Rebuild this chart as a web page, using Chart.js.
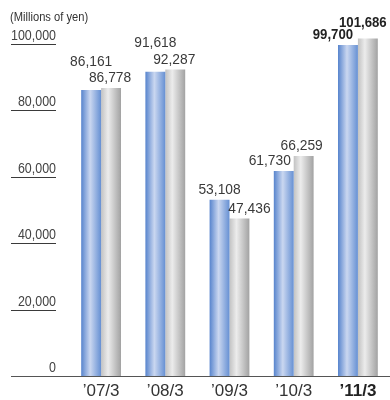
<!DOCTYPE html>
<html lang="en">
<head>
  <meta charset="UTF-8" />
  <meta name="viewport" content="width=device-width, initial-scale=1.0" />
  <title>Net sales</title>
  <script src="https://cdn.jsdelivr.net/npm/chart.js"></script>
  <style>
    html, body { margin: 0; padding: 0; background: #fff; }
    #wrap { width: 390px; height: 400px; position: relative; }
  </style>
</head>
<body>
  <div id="wrap"><canvas id="barChart"></canvas></div>

  <script>
    const periods = ['’07/3', '’08/3', '’09/3', '’10/3', '’11/3'];
    const seriesA = [86161, 91618, 53108, 61730, 99700];
    const seriesB = [86778, 92287, 47436, 66259, 101686];
    const yTicks = [0, 20000, 40000, 60000, 80000, 100000];
    const unitLabel = '(Millions of yen)';

    // value label nudges [dx, dy], from centred 10px above each bar
    const nudgeA = [[0, -18], [0, -19], [0, 0], [-14, 0], [-15, 0]];
    const nudgeB = [[-1, 0], [-1, 0], [10, 0], [-2, 0], [-5, -6]];

    const sans = '"Liberation Sans", Arial, Helvetica, sans-serif';
    const CAT_PCT = 0.62;
    const lastIdx = periods.length - 1;

    const blueStops = [[0, '#5784cd'], [0.45, '#cad7f0'], [1, '#6690d3']];
    const grayStops = [[0, '#c2c2c2'], [0.35, '#ececec'], [1, '#a2a2a2']];

    // horizontal sheen across each bar
    function shade(stops, side) {
      return (c) => {
        const xs = c.chart.scales.x;
        if (!xs || c.dataIndex === undefined) return stops[1][1];
        const bw = (xs.width / periods.length) * CAT_PCT / 2;
        const mid = xs.getPixelForValue(c.dataIndex);
        if (!Number.isFinite(bw) || !Number.isFinite(mid) || bw <= 0) return stops[1][1];
        const x0 = side < 0 ? mid - bw : mid;
        const g = c.chart.ctx.createLinearGradient(x0, 0, x0 + bw, 0);
        stops.forEach(([p, col]) => g.addColorStop(p, col));
        return g;
      };
    }

    const fmt = (v) => v.toLocaleString('en-US');

    // text squeezed horizontally, to get a condensed face out of Liberation Sans
    function squeezed(ctx, str, x, y, font, sx, align) {
      ctx.save();
      ctx.translate(x, y);
      ctx.scale(sx, 1);
      ctx.font = font;
      ctx.textAlign = align;
      ctx.textBaseline = 'middle';
      ctx.fillText(str, 0, 0);
      ctx.restore();
    }

    const decor = {
      id: 'decor',
      afterDraw(chart) {
        const { ctx } = chart;
        const y = chart.scales.y;
        const x = chart.scales.x;
        ctx.save();

        // y tick labels with a short rule under each
        ctx.strokeStyle = '#3a3a3a';
        ctx.lineWidth = 1.2;
        ctx.fillStyle = '#444';
        yTicks.forEach((v) => {
          const py = Math.round(y.getPixelForValue(v)) + 0.5;
          squeezed(ctx, fmt(v), 56, py - 8.5, `14px ${sans}`, 0.89, 'right');
          if (v === 0) return;
          ctx.beginPath();
          ctx.moveTo(11, py);
          ctx.lineTo(56, py);
          ctx.stroke();
        });

        // base line
        const by = Math.round(y.getPixelForValue(0)) + 0.5;
        ctx.strokeStyle = '#555';
        ctx.beginPath();
        ctx.moveTo(11, by);
        ctx.lineTo(chart.width, by);
        ctx.stroke();

        // period labels
        periods.forEach((p, i) => {
          const bold = i === lastIdx;
          ctx.fillStyle = bold ? '#222' : '#333';
          squeezed(ctx, p, x.getPixelForValue(i), 391, `${bold ? 'bold ' : ''}17px ${sans}`, 1, 'center');
        });

        // unit caption
        ctx.fillStyle = '#333';
        squeezed(ctx, unitLabel, 10, 18, `12px ${sans}`, 0.93, 'left');

        // value labels
        [[seriesA, nudgeA], [seriesB, nudgeB]].forEach(([vals, nudge], di) => {
          chart.getDatasetMeta(di).data.forEach((bar, i) => {
            const bold = i === lastIdx;
            ctx.fillStyle = bold ? '#222' : '#3a3a3a';
            squeezed(ctx, fmt(vals[i]), bar.x + nudge[i][0], bar.y - 10 + nudge[i][1],
              `${bold ? 'bold ' : ''}15px ${sans}`, bold ? 0.88 : 0.92, 'center');
          });
        });

        ctx.restore();
      }
    };

    const barCtx = document.getElementById('barChart').getContext('2d');
    const barChart = new Chart(barCtx, {
      type: 'bar',
      data: {
        labels: periods,
        datasets: [
          { data: seriesA, backgroundColor: shade(blueStops, -1) },
          { data: seriesB, backgroundColor: shade(grayStops, 1) }
        ]
      },
      options: {
        responsive: true,
        maintainAspectRatio: false,
        animation: false,
        layout: { padding: { top: 44, right: 0, bottom: 0, left: 0 } },
        datasets: {
          bar: {
            clip: false,
            borderWidth: 0,
            barPercentage: 1,
            categoryPercentage: CAT_PCT
          }
        },
        plugins: {
          legend: { display: false },
          tooltip: { enabled: false }
        },
        scales: {
          x: {
            grid: { display: false },
            border: { display: false },
            ticks: { display: false },
            afterFit: (s) => { s.height = 24; }
          },
          y: {
            min: 0,
            max: 100000,
            grid: { display: false },
            border: { display: false },
            ticks: { display: false, stepSize: 20000 },
            afterFit: (s) => { s.width = 69; }
          }
        }
      },
      plugins: [decor]
    });
  </script>
</body>
</html>
